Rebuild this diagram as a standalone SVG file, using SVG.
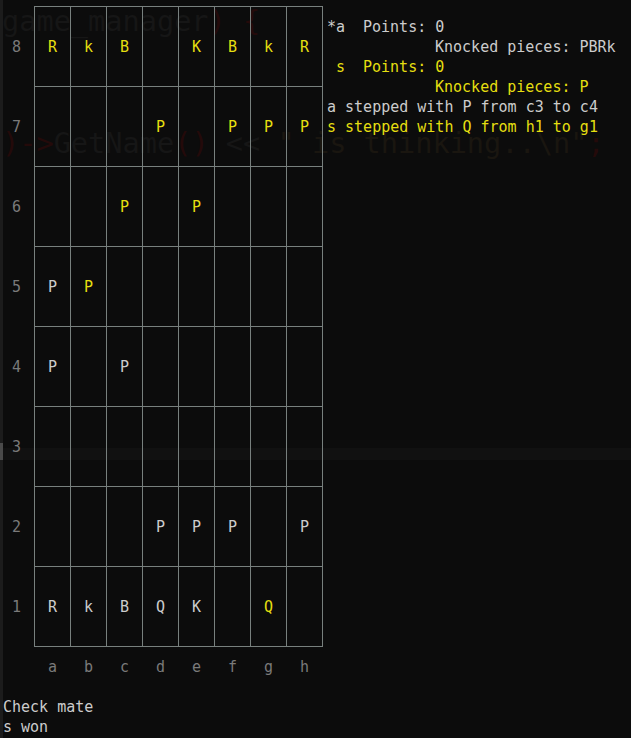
<svg xmlns="http://www.w3.org/2000/svg" width="631" height="738" viewBox="0 0 631 738">
<style>
.t{font-family:"DejaVu Sans Mono","Liberation Mono",monospace;font-size:15px}
.w{fill:#cccccc}
.y{fill:#e5df10}
.l{fill:#7a7a7a}
.c{text-anchor:middle}
.g{font-family:"DejaVu Sans Mono","Liberation Mono",monospace;font-size:28.6px}
.gg{fill:#161616}
.gr{fill:#240a0a}
.gs{fill:#1a1610}
.grid line{stroke:#78807e;stroke-width:1}
</style>
<rect width="631" height="738" fill="#0c0c0c"/>
<rect x="0" y="448" width="631" height="12" fill="#111111"/>
<rect x="0" y="0" width="3" height="738" fill="#1c1c1c"/>
<rect x="0" y="443" width="3" height="17" fill="#4a4a4a"/>
<g id="ghost">
<text class="g" x="2" y="31" xml:space="preserve"><tspan class="gg">game_manager</tspan><tspan class="gr">) {</tspan></text>
<text class="g" x="2" y="153" xml:space="preserve"><tspan class="gr">)-&gt;</tspan><tspan class="gg">GetName</tspan><tspan class="gr">()</tspan><tspan class="gg"> &lt;&lt; </tspan><tspan class="gs">" is thinking..\n"</tspan><tspan class="gr">;</tspan></text>
</g>
<g id="board-grid" class="grid">
<line x1="34.5" y1="6" x2="34.5" y2="647"/>
<line x1="70.5" y1="6" x2="70.5" y2="647"/>
<line x1="106.5" y1="6" x2="106.5" y2="647"/>
<line x1="142.5" y1="6" x2="142.5" y2="647"/>
<line x1="178.5" y1="6" x2="178.5" y2="647"/>
<line x1="214.5" y1="6" x2="214.5" y2="647"/>
<line x1="250.5" y1="6" x2="250.5" y2="647"/>
<line x1="286.5" y1="6" x2="286.5" y2="647"/>
<line x1="322.5" y1="6" x2="322.5" y2="647"/>
<line x1="34" y1="6.5" x2="323" y2="6.5"/>
<line x1="34" y1="86.5" x2="323" y2="86.5"/>
<line x1="34" y1="166.5" x2="323" y2="166.5"/>
<line x1="34" y1="246.5" x2="323" y2="246.5"/>
<line x1="34" y1="326.5" x2="323" y2="326.5"/>
<line x1="34" y1="406.5" x2="323" y2="406.5"/>
<line x1="34" y1="486.5" x2="323" y2="486.5"/>
<line x1="34" y1="566.5" x2="323" y2="566.5"/>
<line x1="34" y1="646.5" x2="323" y2="646.5"/>
</g>
<g id="rank-labels" class="t l c">
<text x="16.5" y="52">8</text>
<text x="16.5" y="132">7</text>
<text x="16.5" y="212">6</text>
<text x="16.5" y="292">5</text>
<text x="16.5" y="372">4</text>
<text x="16.5" y="452">3</text>
<text x="16.5" y="532">2</text>
<text x="16.5" y="612">1</text>
</g>
<g id="file-labels" class="t l c">
<text x="52.5" y="672">a</text>
<text x="88.5" y="672">b</text>
<text x="124.5" y="672">c</text>
<text x="160.5" y="672">d</text>
<text x="196.5" y="672">e</text>
<text x="232.5" y="672">f</text>
<text x="268.5" y="672">g</text>
<text x="304.5" y="672">h</text>
</g>
<g id="pieces-yellow" class="t y c">
<text x="52.5" y="52">R</text>
<text x="88.5" y="52">k</text>
<text x="124.5" y="52">B</text>
<text x="196.5" y="52">K</text>
<text x="232.5" y="52">B</text>
<text x="268.5" y="52">k</text>
<text x="304.5" y="52">R</text>
<text x="160.5" y="132">P</text>
<text x="232.5" y="132">P</text>
<text x="268.5" y="132">P</text>
<text x="304.5" y="132">P</text>
<text x="124.5" y="212">P</text>
<text x="196.5" y="212">P</text>
<text x="88.5" y="292">P</text>
<text x="268.5" y="612">Q</text>
</g>
<g id="pieces-white" class="t w c">
<text x="52.5" y="292">P</text>
<text x="52.5" y="372">P</text>
<text x="124.5" y="372">P</text>
<text x="160.5" y="532">P</text>
<text x="196.5" y="532">P</text>
<text x="232.5" y="532">P</text>
<text x="304.5" y="532">P</text>
<text x="52.5" y="612">R</text>
<text x="88.5" y="612">k</text>
<text x="124.5" y="612">B</text>
<text x="160.5" y="612">Q</text>
<text x="196.5" y="612">K</text>
</g>
<g id="status" class="t">
<text class="w" x="327" y="32">*a<tspan x="363">Points: 0</tspan></text>
<text class="w" x="435" y="52">Knocked pieces: PBRk</text>
<text class="y" x="336" y="72">s<tspan x="363">Points: 0</tspan></text>
<text class="y" x="435" y="92">Knocked pieces: P</text>
<text class="w" x="327" y="112">a stepped with P from c3 to c4</text>
<text class="y" x="327" y="132">s stepped with Q from h1 to g1</text>
</g>
<g id="result" class="t w">
<text x="3" y="712">Check mate</text>
<text x="3" y="732">s won</text>
</g>
</svg>
